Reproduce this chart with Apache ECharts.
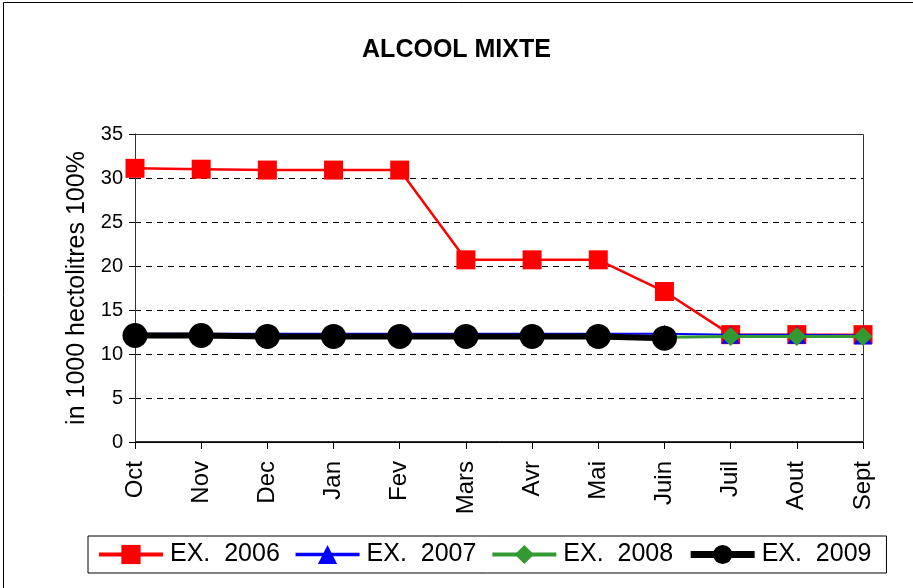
<!DOCTYPE html>
<html lang="fr">
<head>
    <meta charset="UTF-8">
    <title>ALCOOL MIXTE</title>
    <script type="text/javascript" src="https://cdn.jsdelivr.net/npm/echarts@6/dist/echarts.min.js"></script>
    <style>
        body { margin: 0; background: #fff; }
    </style>
</head>
<body>
<div id="main" style="width: 913px;height:588px;"></div>
<script>
    var months = ['Oct', 'Nov', 'Dec', 'Jan', 'Fev', 'Mars', 'Avr', 'Mai', 'Juin', 'Juil', 'Aout', 'Sept'];
    var ex2006 = [31.1, 31.0, 30.9, 30.9, 30.9, 20.7, 20.7, 20.7, 17.1, 12.2, 12.2, 12.2];
    var ex2007 = [12.3, 12.3, 12.3, 12.3, 12.3, 12.3, 12.3, 12.3, 12.3, 12.2, 12.2, 12.1];
    var ex2008 = [12.0, 12.0, 11.9, 11.9, 11.9, 11.9, 11.9, 11.9, 11.9, 12.0, 12.0, 12.0];
    var ex2009 = [12.1, 12.1, 12.0, 12.0, 12.0, 12.0, 12.0, 12.0, 11.8];
    var yTicks = [0, 5, 10, 15, 20, 25, 30, 35];

    var font = 'Liberation Sans, Arial, sans-serif';
    var myChart = echarts.init(document.getElementById('main'));
    var option = {
        animation: false,
        backgroundColor: '#fff',
        textStyle: { fontFamily: font, color: '#000' },
        title: {
            text: 'ALCOOL MIXTE',
            left: 'center',
            top: 33,
            textStyle: { fontSize: 25, fontWeight: 'bold', color: '#000', fontFamily: font }
        },
        graphic: [{
            type: 'rect',
            shape: { x: 3.5, y: 2.5, width: 920, height: 600 },
            style: { fill: 'none', stroke: '#000', lineWidth: 1 },
            silent: true
        }, {
            type: 'rect',
            shape: { x: 135.5, y: 134.5, width: 728, height: 307 },
            style: { fill: 'none', stroke: '#333', lineWidth: 1 },
            silent: true,
            z: 1
        }],
        legend: {
            left: 88,
            top: 536,
            itemWidth: 64,
            itemHeight: 24,
            itemGap: 14,
            padding: [6, 15, 6, 9],
            borderColor: '#000',
            borderWidth: 1,
            borderRadius: 0,
            textStyle: { fontSize: 25, color: '#000', fontFamily: font, padding: [0, 0, 0, 2] },
            data: [
                { name: 'EX.  2006', lineStyle: { width: 4 } },
                { name: 'EX.  2007', lineStyle: { width: 3.5 } },
                { name: 'EX.  2008', lineStyle: { width: 4 } },
                { name: 'EX.  2009', lineStyle: { width: 7 } }
            ]
        },
        grid: {
            left: 135,
            right: 50,
            top: 134,
            bottom: 146
        },
        xAxis: {
            type: 'category',
            boundaryGap: false,
            data: months,
            axisLine: { lineStyle: { color: '#000', width: 1 } },
            axisTick: { length: 7, lineStyle: { color: '#000' } },
            axisLabel: {
                rotate: 90,
                interval: 0,
                fontSize: 24,
                color: '#000',
                margin: 19,
                fontFamily: font
            }
        },
        yAxis: {
            type: 'value',
            min: yTicks[0],
            max: yTicks[yTicks.length - 1],
            interval: 5,
            name: 'in 1000 hectolitres 100%',
            nameLocation: 'middle',
            nameGap: 44,
            nameTextStyle: { fontSize: 25, color: '#000', fontFamily: font },
            axisLine: { show: true, lineStyle: { color: '#000', width: 1 } },
            axisTick: { show: true, inside: false, length: 6, lineStyle: { color: '#000' } },
            axisLabel: { fontSize: 20, color: '#000', margin: 12, fontFamily: font },
            splitLine: {
                show: true,
                lineStyle: { color: '#000', type: [6, 5], width: 1 }
            }
        },
        series: [{
            name: 'EX.  2006',
            type: 'line',
            data: ex2006,
            color: '#ff0000',
            symbol: 'rect',
            symbolSize: 19,
            lineStyle: { width: 2.5, color: '#ff0000' },
            itemStyle: { color: '#ff0000' },
            z: 2
        }, {
            name: 'EX.  2007',
            type: 'line',
            data: ex2007,
            color: '#0000ff',
            symbol: 'triangle',
            symbolSize: 18,
            lineStyle: { width: 2, color: '#0000ff' },
            itemStyle: { color: '#0000ff' },
            z: 3
        }, {
            name: 'EX.  2008',
            type: 'line',
            data: ex2008,
            color: '#339933',
            symbol: 'diamond',
            symbolSize: 19,
            lineStyle: { width: 3, color: '#339933' },
            itemStyle: { color: '#339933' },
            z: 4
        }, {
            name: 'EX.  2009',
            type: 'line',
            data: ex2009,
            color: '#000',
            symbol: 'circle',
            symbolSize: 25,
            lineStyle: { width: 6, color: '#000' },
            itemStyle: { color: '#000' },
            z: 5
        }]
    };
    myChart.setOption(option);
</script>
</body>
</html>
